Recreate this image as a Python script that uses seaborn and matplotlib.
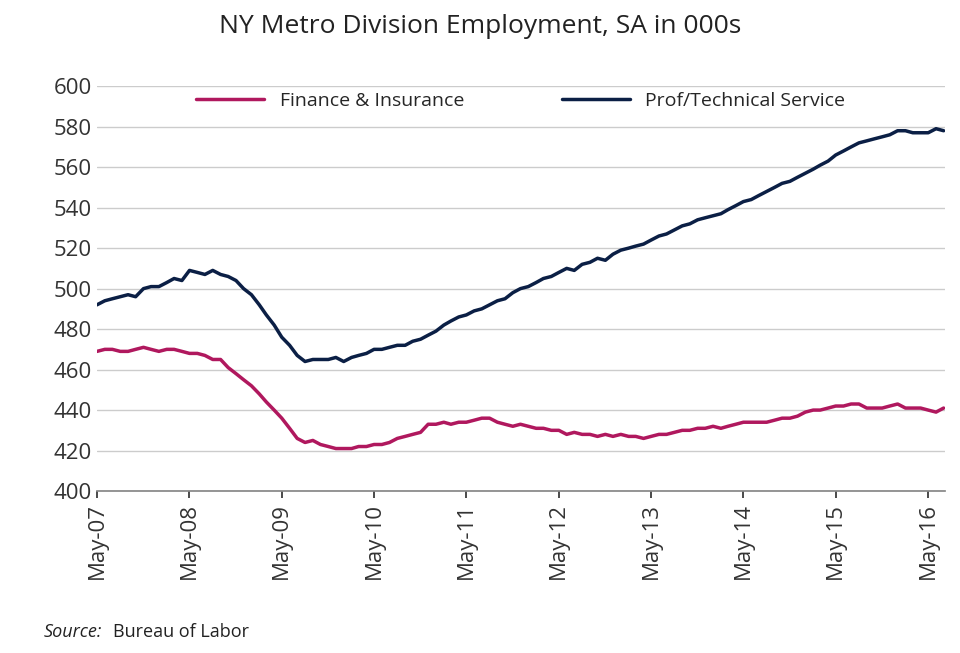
import pandas as pd
import numpy as np
import seaborn as sns
import matplotlib.pyplot as plt
import matplotlib.dates as mdates

# Monthly values, May-07 .. Jul-16
prof_tech = [492, 494, 495, 496, 497, 496, 500, 501,
             501, 503, 505, 504, 509, 508, 507, 509, 507, 506, 504, 500,
             497, 492, 487, 482, 476, 472, 467, 464, 465, 465, 465, 466,
             464, 466, 467, 468, 470, 470, 471, 472, 472, 474, 475, 477,
             479, 482, 484, 486, 487, 489, 490, 492, 494, 495, 498, 500,
             501, 503, 505, 506, 508, 510, 509, 512, 513, 515, 514, 517,
             519, 520, 521, 522, 524, 526, 527, 529, 531, 532, 534, 535,
             536, 537, 539, 541, 543, 544, 546, 548, 550, 552, 553, 555,
             557, 559, 561, 563, 566, 568, 570, 572, 573, 574, 575, 576,
             578, 578, 577, 577, 577, 579, 578]
finance = [469, 470, 470, 469, 469, 470, 471, 470,
           469, 470, 470, 469, 468, 468, 467, 465, 465, 461, 458, 455,
           452, 448, 444, 440, 436, 431, 426, 424, 425, 423, 422, 421,
           421, 421, 422, 422, 423, 423, 424, 426, 427, 428, 429, 433,
           433, 434, 433, 434, 434, 435, 436, 436, 434, 433, 432, 433,
           432, 431, 431, 430, 430, 428, 429, 428, 428, 427, 428, 427,
           428, 427, 427, 426, 427, 428, 428, 429, 430, 430, 431, 431,
           432, 431, 432, 433, 434, 434, 434, 434, 435, 436, 436, 437,
           439, 440, 440, 441, 442, 442, 443, 443, 441, 441, 441, 442,
           443, 441, 441, 441, 440, 439, 441]
dates = pd.date_range("2007-05-01", periods=len(finance), freq="MS")

df = pd.DataFrame({"date": dates, "Finance & Insurance": finance,
                   "Prof/Technical Service": prof_tech})
long = df.melt(id_vars="date", var_name="series", value_name="value")

sns.set_theme(style="white")
plt.rcParams['font.family'] = ['Open Sans', 'DejaVu Sans']

fig = plt.figure(figsize=(9.6, 6.53), dpi=100)
ax = fig.add_axes([0.101, 0.248, 0.883, 0.62])
sns.lineplot(data=long, x="date", y="value", hue="series", ax=ax,
             palette={"Finance & Insurance": "#B0185E",
                      "Prof/Technical Service": "#0B1F45"},
             linewidth=2.5)

ax.set_ylim(400, 600)
ax.set_yticks(range(400, 601, 20))
ax.set_xlim(pd.Timestamp("2007-05-01"), pd.Timestamp("2016-07-05"))
ax.xaxis.set_major_locator(mdates.MonthLocator(bymonth=5))
ax.xaxis.set_major_formatter(mdates.DateFormatter("%b-%y"))
ax.tick_params(axis="x", rotation=90, labelsize=16, colors="#333333",
               length=5, direction="out", bottom=True)
ax.tick_params(axis="y", labelsize=16, colors="#333333", length=0)
ax.grid(axis="y", color="#cccccc", linewidth=1)
for s in ["top", "right", "left"]:
    ax.spines[s].set_visible(False)
ax.spines["bottom"].set_color("#888888")
ax.set_xlabel("")
ax.set_ylabel("")

ax.legend(title=None, loc="upper center", ncol=2, frameon=False,
          fontsize=14, bbox_to_anchor=(0.5, 1.03), columnspacing=5,
          handlelength=3.5)

fig.text(0.5, 0.96, "NY Metro Division Employment, SA in 000s",
         ha="center", va="center", fontsize=19, color="#222222")
fig.text(0.045, 0.025, "Source:", style="italic", fontsize=13, color="#222222")
fig.text(0.118, 0.025, "Bureau of Labor", fontsize=13, color="#222222")

fig.savefig("out.png", dpi=100)
